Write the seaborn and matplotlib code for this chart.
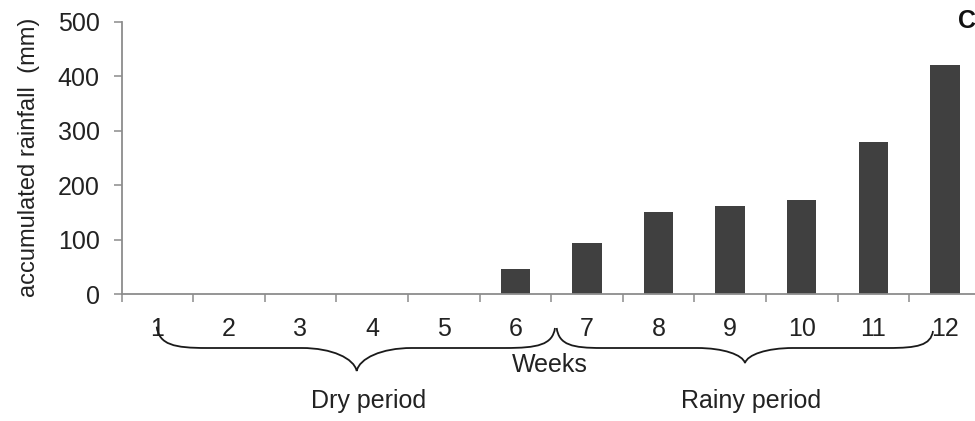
import numpy as np
import matplotlib
matplotlib.use("Agg")
import matplotlib.pyplot as plt
from matplotlib.path import Path
from matplotlib.patches import PathPatch
import seaborn as sns
import pandas as pd

weeks = ["1", "2", "3", "4", "5", "6", "7", "8", "9", "10", "11", "12"]
rainfall = [0, 0, 0, 0, 0, 47, 95, 151, 162, 173, 280, 421]
yticks = [0, 100, 200, 300, 400, 500]
ylabel = "accumulated rainfall  (mm)"
xlabel = "Weeks"
period_labels = ["Dry period", "Rainy period"]
panel_label = "C"

sns.set_style("ticks")
plt.rcParams["font.family"] = ["Liberation Sans", "DejaVu Sans"]

W, H = 975, 421
fig = plt.figure(figsize=(W / 100, H / 100), dpi=100)
ax = fig.add_axes([121.5 / W, (H - 294.3) / H, 859.2 / W, 272.6 / H])

df = pd.DataFrame({"week": weeks, "rain": rainfall})
sns.barplot(data=df, x="week", y="rain", order=weeks, color="#404040",
            saturation=1, width=0.41, ax=ax, edgecolor="none")

txt = "#222222"
grey = "#8c8c8c"
ax.set_xlim(-0.5, 11.5)
ax.set_ylim(0, 500)
ax.set_yticks(yticks)
ax.set_yticklabels([str(v) for v in yticks], fontsize=18, color=txt)
ax.set_xticks(np.arange(-0.5, 12, 1))
ax.set_xticklabels([""] * 13)
ax.set_xticks(np.arange(12), minor=True)
ax.set_xticklabels(weeks, minor=True, fontsize=18, color=txt)
ax.tick_params(axis="x", which="major", length=5.8, width=1.1, color=grey, direction="out")
ax.tick_params(axis="x", which="minor", length=0, pad=16.3)
ax.tick_params(axis="y", length=5.8, width=1.1, color=grey, pad=10, direction="out")
for s in ["top", "right"]:
    ax.spines[s].set_visible(False)
for s in ["left", "bottom"]:
    ax.spines[s].set_color(grey)
    ax.spines[s].set_linewidth(1.3)

ax.set_ylabel(ylabel, fontsize=17, color=txt)
ax.yaxis.label.set(va="center", ha="center", rotation_mode="default")
ax.yaxis.set_label_coords((29 - 121.5) / 859.2, (294.3 - 157) / 272.6)

ax.set_xlabel(xlabel, fontsize=18, color=txt)
ax.xaxis.label.set(va="baseline")
ax.xaxis.set_label_coords((550 - 121.5) / 859.2, (294.3 - 372) / 272.6)


def fp(x, y):
    return (x / W, 1 - y / H)


def brace(x0, x1, xm, y_end0, y_end1, y_h, y_tip, r_end, r_tip):
    verts, codes = [], []

    def add(pts, code):
        for p in pts:
            verts.append(fp(*p))
            codes.append(code)

    add([(x0, y_end0)], Path.MOVETO)
    add([(x0 + 0.05 * r_end, y_end0 + 0.85 * (y_h - y_end0)),
         (x0 + 0.35 * r_end, y_h), (x0 + r_end, y_h)], Path.CURVE4)
    add([(xm - r_tip, y_h)], Path.LINETO)
    add([(xm - 0.45 * r_tip, y_h), (xm - 0.05 * r_tip, y_h + 0.45 * (y_tip - y_h)),
         (xm, y_tip)], Path.CURVE4)
    add([(xm + 0.05 * r_tip, y_h + 0.45 * (y_tip - y_h)), (xm + 0.45 * r_tip, y_h),
         (xm + r_tip, y_h)], Path.CURVE4)
    add([(x1 - r_end, y_h)], Path.LINETO)
    add([(x1 - 0.35 * r_end, y_h), (x1 - 0.05 * r_end, y_end1 + 0.85 * (y_h - y_end1)),
         (x1, y_end1)], Path.CURVE4)
    patch = PathPatch(Path(verts, codes), facecolor="none", edgecolor="#1a1a1a",
                      lw=1.3, transform=fig.transFigure, clip_on=False)
    fig.add_artist(patch)


brace(156.7, 555.0, 356.7, 326.7, 328.0, 348.0, 371.0, 50, 55)
brace(556.7, 933.0, 745.0, 328.0, 331.0, 348.0, 363.0, 45, 48)

fig.text(369 / W, 1 - 407.7 / H, period_labels[0], ha="center", va="baseline",
         fontsize=18, color=txt)
fig.text(751 / W, 1 - 407.7 / H, period_labels[1], ha="center", va="baseline",
         fontsize=18, color=txt)
fig.text(958 / W, 1 - 28 / H, panel_label, ha="left", va="baseline",
         fontsize=18, fontweight="bold", color="#111111")

fig.savefig("out.png", dpi=100)
